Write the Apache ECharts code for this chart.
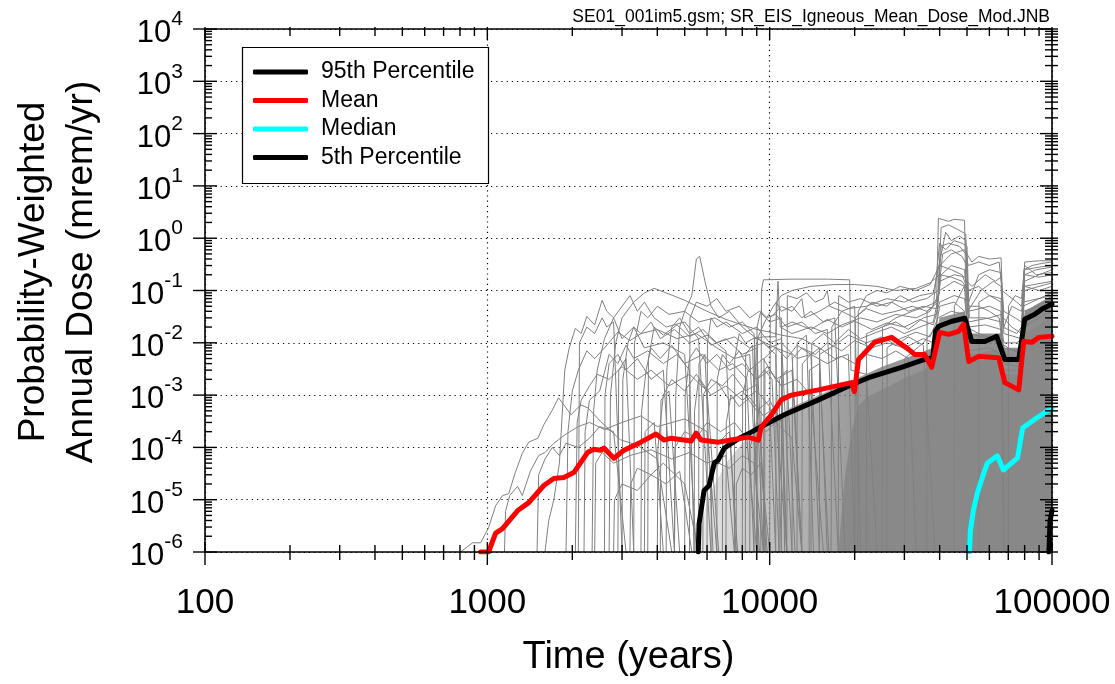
<!DOCTYPE html>
<html><head><meta charset="utf-8">
<script src="https://cdn.jsdelivr.net/npm/echarts@6/dist/echarts.min.js"></script>
<style>html,body{margin:0;padding:0;background:#fff}#c{width:1115px;height:684px}</style>
</head><body><div id="c"></div>
<script>
const FONT = '"Liberation Sans", Arial, sans-serif';
const titleText = 'SE01_001im5.gsm; SR_EIS_Igneous_Mean_Dose_Mod.JNB';
const xAxisTitle = 'Time (years)';
const yAxisTitle = 'Probability-Weighted\nAnnual Dose (mrem/yr)';
const seriesNames = ['95th Percentile', 'Mean', 'Median', '5th Percentile'];
const xDecades = [100, 1000, 10000, 100000];
const yDecades = [1e-6, 1e-5, 1e-4, 1e-3, 1e-2, 1e-1, 1, 10, 100, 1000, 10000];

const p95 = [[5585,1e-6],[5623,3.46e-6],[5858,1.5e-5],[6103,1.87e-5],[6359,4.97e-5],[6571,5.7e-5],[6905,9.7e-5],[7430,1.26e-4],[7930,1.57e-4],[8610,1.96e-4],[9570,2.68e-4],[11270,4.2e-4],[14890,8.1e-4],[19500,1.58e-3],[22400,2.15e-3],[29310,3.4e-3],[35370,4.8e-3],[37800,5.2e-3],[38700,1.7e-2],[39710,2.07e-2],[44160,2.58e-2],[49120,2.95e-2],[52000,1.06e-2],[57810,1.06e-2],[63700,1.33e-2],[68060,4.8e-3],[76260,4.8e-3],[80100,2.83e-2],[86900,3.5e-2],[92000,4.4e-2],[100000,5.5e-2]];
const meanDose = [[947,1e-6],[1010,1e-6],[1070,2.3e-6],[1132,2.8e-6],[1281,6.2e-6],[1402,8.8e-6],[1585,1.87e-5],[1719,2.55e-5],[1866,2.67e-5],[2024,3.3e-5],[2270,8.1e-5],[2384,9.2e-5],[2523,8.8e-5],[2587,9.7e-5],[2808,6.2e-5],[3046,8.8e-5],[3500,1.26e-4],[3956,1.8e-4],[4223,1.38e-4],[4474,1.5e-4],[5271,1.32e-4],[5490,1.88e-4],[5718,1.38e-4],[6571,1.26e-4],[7305,1.38e-4],[8398,1.57e-4],[9117,1.38e-4],[9340,2.45e-4],[10140,4.2e-4],[10990,8.1e-4],[11940,1.0e-3],[14890,1.26e-3],[19500,1.73e-3],[19960,1.16e-3],[20640,4.8e-3],[23510,1.02e-2],[27020,1.27e-2],[31050,7.5e-3],[32610,6.0e-3],[35370,6.0e-3],[37480,3.4e-3],[40010,1.58e-2],[43070,1.45e-2],[46730,1.66e-2],[48670,2.26e-2],[50700,4.4e-3],[55040,5.5e-3],[64760,5.2e-3],[68060,1.73e-3],[76260,1.26e-3],[79400,1.06e-2],[84850,1.02e-2],[89800,1.27e-2],[100000,1.33e-2]];
const median = [[51000,1e-6],[51400,2.6e-6],[52700,6.4e-6],[54400,1.34e-5],[56700,2.7e-5],[59000,5.0e-5],[64000,6.9e-5],[67300,3.7e-5],[75500,6.3e-5],[78700,2.35e-4],[86100,3.34e-4],[100000,5.7e-4]];
const p5 = [[97500,1e-6],[98400,3.9e-6],[100000,6.2e-6]];

// envelopes of the densely overlapping realization region
const denseHaze = [[5500,1e-6],[6000,1e-5],[7000,5e-5],[8000,1.2e-4],[9000,2e-4],[10000,3e-4],[12000,6e-4],[15000,1e-3],[20000,2e-3],[25000,3.5e-3],[30000,5e-3],[38000,8e-3],[40000,3e-2],[49000,4e-2],[51000,1.5e-2],[66000,1.5e-2],[68000,8e-3],[78000,8e-3],[80000,4e-2],[100000,8e-2]];
const denseCore = [[17500,1e-6],[18500,3e-5],[19500,2e-4],[20500,6e-4],[22000,9e-4],[26000,1.4e-3],[30000,2.1e-3],[34000,2.8e-3],[37500,3.5e-3],[39000,6e-3],[40500,1.3e-2],[45000,1.6e-2],[49000,1.8e-2],[50500,6e-3],[57000,6.5e-3],[64000,7.5e-3],[67500,2.5e-3],[77000,2.5e-3],[79500,1.5e-2],[90000,2.2e-2],[100000,3e-2]];

const realizations = [
 [[804,1e-6],[887,1.5e-6],[947,1.5e-6],[1010,2.9e-6],[1070,7.7e-6],[1132,1.2e-5],[1190,1.3e-5],[1256,3.3e-5],[1330,7.7e-5],[1402,1.26e-4],[1510,1.5e-4],[1585,2.7e-4],[1700,5.2e-4],[1787,8.9e-4],[1866,6.5e-4],[1980,4.2e-4],[2140,6.5e-4],[2270,5.7e-4],[2523,3.1e-4],[2960,1.4e-4],[3400,1.1e-4],[4000,6e-5],[4500,1e-6]],
 [[1150,1e-6],[1160,6e-6],[1200,1.2e-5],[1280,1.8e-5],[1330,1.2e-5],[1420,3.5e-5],[1520,7e-5],[1600,8e-5],[1720,1.2e-4],[1900,1.8e-4],[2100,2.5e-4],[2300,3e-4],[2600,2.2e-4],[3000,3e-4],[3500,4e-4],[4000,2.5e-4],[5000,3.5e-4],[6000,2e-4],[6500,1e-6]],
 [[1600,1e-6],[1650,4e-6],[1720,1e-5],[1800,5e-5],[1880,3e-3],[1950,8e-3],[2050,1.9e-2],[2150,1.5e-2],[2250,3.2e-2],[2400,2.2e-2],[2550,6.5e-2],[2650,4e-2],[2800,3e-2],[3000,1.2e-2],[3300,2e-2],[3600,8e-3],[4200,1e-2],[5000,6e-3],[5500,1e-6]],
 [[1900,1e-6],[1930,2e-4],[2000,1.2e-3],[2100,3e-3],[2250,7e-3],[2400,5e-3],[2600,8e-3],[2900,1.6e-2],[3200,1.1e-2],[3500,1.5e-2],[4000,1.8e-2],[4700,1.2e-2],[5500,1.5e-2],[6500,8e-3],[7500,5e-3],[8500,6e-3],[9200,1e-6]],
 [[2050,1e-6],[2080,3e-4],[2150,8e-4],[2300,1.5e-3],[2450,2.5e-3],[2700,2e-3],[3000,3.5e-3],[3400,2e-3],[3800,3e-3],[4400,1.5e-3],[5200,2.5e-3],[6000,1.2e-3],[6600,1e-6]],
 [[2350,1e-6],[2380,5e-4],[2450,3e-3],[2600,1.2e-2],[2800,3e-2],[3000,5e-2],[3200,8e-2],[3400,4e-2],[3600,6e-2],[3900,3e-2],[4300,2e-2],[5000,2.5e-2],[5600,1.2e-2],[6200,1e-6]],
 [[2700,1e-6],[2730,1e-3],[2850,1e-2],[3000,3e-2],[3300,6e-2],[3600,9e-2],[3900,1.1e-1],[4300,9e-2],[5000,6.5e-2],[6000,4e-2],[7000,2.8e-2],[8000,2.2e-2],[9000,1.8e-2],[10000,1.6e-2],[11000,1.4e-2],[13000,1.2e-2],[15000,8e-3],[16000,1e-6]],
 [[4600,1e-6],[4650,1e-3],[4800,2e-2],[5000,4e-2],[5300,8e-2],[5500,4e-1],[5650,4.5e-1],[5900,1.5e-1],[6200,5e-2],[6600,3e-2],[7200,4e-2],[8000,2e-2],[9000,1.2e-2],[10500,8e-3],[12000,6e-3],[13000,1e-6]],
 [[2200,1e-6],[2220,2e-4],[2300,8e-4],[2500,1.2e-3],[2700,6e-3],[2900,4e-3],[3100,9e-3],[3300,5e-3],[3700,7e-3],[4200,4e-3],[4700,6e-3],[5200,3e-3],[5400,1e-6]],
 [[2400,1e-6],[2420,5e-5],[2550,8e-5],[2800,5e-5],[3200,7e-5],[3800,9e-5],[4500,6e-5],[5200,8e-5],[6000,5e-5],[7000,7e-5],[7500,1e-6]],
 [[2600,1e-6],[2610,1e-3],[2700,4e-3],[2900,6e-3],[3100,3e-3],[3400,5e-3],[3800,2e-3],[4200,3e-3],[4600,1e-6]],
 [[3000,1e-6],[3020,2e-3],[3150,1e-2],[3300,2e-2],[3500,1.5e-2],[3800,2.5e-2],[4100,1.2e-2],[4600,1.8e-2],[5200,1e-2],[6000,1.4e-2],[7000,7e-3],[7600,1e-6]],
 [[1500,1e-6],[1520,3e-5],[1600,6e-5],[1700,1e-4],[1800,7e-5],[1900,1.2e-4],[2100,1e-4],[2300,1.5e-4],[2500,2.5e-4],[2800,2e-4],[3100,1e-6]],
 [[2100,1e-6],[2120,1e-2],[2250,2e-2],[2400,1.5e-2],[2550,3e-2],[2650,2e-2],[2800,2.5e-2],[3000,1e-6]],
 [[3500,1e-6],[3520,5e-4],[3650,3e-3],[3800,8e-3],[4100,5e-3],[4500,9e-3],[5000,4e-3],[5800,6e-3],[6600,3e-3],[7400,4e-3],[8300,2e-3],[8800,1e-6]],
 [[4000,1e-6],[4020,1e-4],[4200,1e-3],[4500,2e-3],[5000,1.2e-3],[5500,2.5e-3],[6200,1e-3],[7000,1.5e-3],[8000,8e-4],[9000,1.2e-3],[10000,6e-4],[10500,1e-6]],
 [[4300,1e-6],[4320,3e-3],[4500,2e-2],[4800,3e-2],[5200,1.5e-2],[5600,2e-2],[6200,9e-3],[7000,1.2e-2],[8000,6e-3],[9000,8e-3],[9700,1e-6]],
 [[5000,1e-6],[5020,1e-3],[5200,5e-3],[5500,8e-3],[6000,4e-3],[6500,6e-3],[7200,3e-3],[8000,4e-3],[9000,2e-3],[10000,3e-3],[11000,1.5e-3],[11500,1e-6]],
 [[5400,1e-6],[5420,5e-4],[5600,2e-3],[6000,1.2e-3],[6500,1.8e-3],[7200,8e-4],[8000,1.2e-3],[9000,5e-4],[10000,8e-4],[11000,3e-4],[11500,1e-6]],
 [[6000,1e-6],[6020,1e-2],[6200,3e-2],[6500,2e-2],[7000,2.5e-2],[8000,1.5e-2],[9000,2e-2],[10000,1e-2],[11000,1.2e-2],[12000,1e-6]],
 [[6500,1e-6],[6520,2e-3],[6800,6e-3],[7200,4e-3],[7800,7e-3],[8500,3e-3],[9500,5e-3],[10500,2e-3],[12000,3e-3],[13000,1e-6]],
 [[7000,1e-6],[7020,3e-4],[7300,1e-3],[7800,6e-4],[8500,9e-4],[9500,4e-4],[10500,6e-4],[11500,1e-6]],
 [[3200,1e-6],[3220,2e-5],[3400,4e-5],[3800,3e-5],[4200,5e-5],[5000,2e-5],[5600,1e-6]],
 [[7500,1e-6],[7520,5e-3],[7800,1.5e-2],[8200,1e-2],[9000,1.3e-2],[10000,8e-3],[11000,1e-2],[12500,5e-3],[14000,6e-3],[15000,1e-6]],
 [[8000,1e-6],[8020,1e-3],[8400,3e-3],[9000,2e-3],[9800,3.5e-3],[11000,1.5e-3],[12500,2e-3],[14000,1e-3],[15500,1e-6]],
 [[8500,1e-6],[8520,1e-4],[9000,3e-4],[9700,2e-4],[10500,3e-4],[12000,1.5e-4],[13000,1e-6]],
 [[9000,1e-6],[9020,2e-2],[9300,4e-2],[9800,3e-2],[10500,3.5e-2],[11500,2e-2],[13000,2.5e-2],[14500,1.5e-2],[16000,1.8e-2],[17500,1e-6]],
 [[3300,1e-6],[3320,1e-2],[3500,4e-2],[3700,3e-2],[4000,5e-2],[4400,3.5e-2],[5000,4e-2],[5600,2.5e-2],[6400,3e-2],[7200,2e-2],[8000,2.5e-2],[8800,1.5e-2],[9500,1e-6]],
 [[3700,1e-6],[3720,5e-3],[3900,2e-2],[4200,1.4e-2],[4700,2.2e-2],[5200,1.3e-2],[5800,1.8e-2],[6500,1e-2],[7500,1.3e-2],[8500,8e-3],[9500,1e-2],[10500,6e-3],[11000,1e-6]],
 [[5200,1e-6],[5220,3e-2],[5500,6e-2],[6000,5e-2],[6500,7e-2],[7000,4e-2],[7800,5e-2],[8500,3e-2],[9200,4e-2],[10000,2.5e-2],[11000,3e-2],[11300,1e-6]],
 [[2800,1e-6],[2820,1e-5],[3000,2e-5],[3400,1.5e-5],[3800,3e-5],[4300,2e-5],[4800,3.5e-5],[5300,1e-6]],
 [[4600,1e-6],[4620,1e-4],[5000,2e-4],[5500,1.5e-4],[6000,3e-4],[6700,2e-4],[7500,3e-4],[8300,1.5e-4],[9000,1e-6]],
 [[6200,1e-6],[6220,3e-5],[6600,5e-5],[7200,4e-5],[8000,7e-5],[8800,5e-5],[9500,1e-6]],
 [[7600,1e-6],[7620,2e-5],[8000,4e-5],[8600,3e-5],[9300,5e-5],[10000,1e-6]],
 [[5800,1e-6],[5820,1e-3],[6200,2e-3],[6800,1.5e-3],[7400,2.5e-3],[8200,1.2e-3],[9000,1.6e-3],[9800,1e-6]],
 [[2900,1e-6],[2920,3e-3],[3100,5e-3],[3300,1e-6]],
 [[4100,1e-6],[4120,8e-4],[4400,1.2e-3],[4800,1e-6]],
 [[5600,1e-6],[5620,4e-3],[5900,6e-3],[6300,1e-6]],
 [[6800,1e-6],[6820,1.5e-4],[7200,2e-4],[7700,1e-6]],
 [[8200,1e-6],[8220,6e-3],[8700,9e-3],[9100,1e-6]],
 [[3600,1e-6],[3620,2e-4],[3900,3e-4],[4200,1e-6]],
 [[9600,1e-6],[9620,3e-3],[10200,2e-3],[10800,1e-6]],
 [[10800,1e-6],[10820,2e-3],[11500,3e-3],[12300,1e-6]],
 [[12500,1e-6],[12520,1e-2],[13500,1.4e-2],[14300,1e-6]],
 [[13800,1e-6],[13820,3e-3],[15000,4e-3],[16200,1e-6]],
 [[9300,1e-6],[9350,0.1],[9500,0.16],[12000,0.165],[16000,0.165],[19200,0.16],[19400,3e-3],[22000,2.5e-3],[24000,1e-6]],
 [[9000,1e-6],[9050,1.2e-2],[9600,2.5e-2],[10300,5e-2],[11000,8e-2],[12000,0.1],[14000,0.12],[17000,0.13],[20000,0.13],[24000,0.12],[28000,0.1],[33000,0.11],[37000,0.14],[40000,0.2],[44000,0.18],[48000,0.15],[50500,0.1],[51000,3e-2],[58000,3e-2],[66000,2.5e-2],[67500,1e-2],[75000,1e-2],[78500,1.2e-2],[80000,0.1],[90000,0.12],[100000,0.14]],
 [[8800,1e-6],[8850,1.2e-2],[9500,1.3e-2],[10500,1.3e-2],[10700,0.15],[10900,2e-2],[12000,1.5e-2],[14000,2e-2],[16000,1.5e-2],[18000,2.2e-2],[21000,3e-2],[24000,2.5e-2],[28000,3.5e-2],[33000,3e-2],[37000,4e-2],[39500,8e-2],[41000,0.5],[44000,0.6],[48000,0.45],[50000,0.3],[50800,1.5e-2],[60000,1.2e-2],[66000,1e-2],[67000,3e-3],[76000,3e-3],[78500,3e-2],[88000,5e-2],[100000,7e-2]],
 [[10000,1e-6],[10050,3e-2],[11000,5e-2],[12000,4e-2],[13000,7e-2],[13300,3e-2],[15000,4e-2],[17000,6e-2],[19000,4.5e-2],[22000,5e-2],[26000,7e-2],[30000,6e-2],[34000,8e-2],[38000,9e-2],[39500,0.25],[42000,1.3],[44000,0.9],[47000,1.1],[49500,0.9],[50500,5e-2],[55000,5e-2],[60000,4e-2],[65000,3e-2],[67000,8e-3],[75000,7e-3],[78000,9e-3],[79500,0.25],[85000,0.3],[92000,0.33],[100000,0.35]],
 [[25000,1e-6],[25100,2e-2],[28000,3e-2],[32000,4e-2],[36000,5e-2],[39000,6e-2],[39600,2.4],[43000,2.1],[45000,2.3],[49000,2.2],[49800,2e-2],[55000,1.5e-2],[62000,1.2e-2],[70000,8e-3],[78000,6e-3],[80000,0.35],[90000,0.37],[100000,0.37]],
 [[30000,1e-6],[30100,5e-3],[35000,1e-2],[39000,2e-2],[40000,0.3],[44000,0.5],[49000,0.6],[52000,0.35],[55000,0.45],[60000,0.4],[66000,0.42],[67500,1.5e-2],[78000,1.2e-2],[80000,0.15],[90000,0.2],[100000,0.25]],
 [[20000,1e-6],[20100,3e-2],[23000,6e-2],[26000,5e-2],[29000,8e-2],[32000,6e-2],[36000,7e-2],[39500,0.1],[40500,1.6],[43000,1.8],[46000,1.5],[49500,1.2],[50300,4e-2],[56000,0.1],[62000,0.15],[66000,0.12],[67000,2e-2],[75000,1.5e-2],[78000,2e-2],[80000,0.2],[90000,0.18],[100000,0.2]],
 [[14000,1e-6],[14100,1e-2],[15500,1.5e-2],[17000,1e-2],[19000,1.8e-2],[21000,1.2e-2],[24000,1.6e-2],[27000,2e-2],[30000,1.5e-2],[34000,2e-2],[38000,2.5e-2],[40000,0.1],[45000,0.15],[49000,0.12],[50500,1e-2],[60000,1.2e-2],[66000,1.5e-2],[68000,5e-3],[77000,4e-3],[79000,5e-2],[90000,7e-2],[100000,9e-2]],
 [[12000,1e-6],[12050,5e-3],[13000,8e-3],[14500,6e-3],[16000,1e-2],[18000,7e-3],[20000,1.1e-2],[23000,8e-3],[26000,1e-2],[30000,8e-3],[35000,1.2e-2],[38000,1e-2],[40000,5e-2],[45000,6e-2],[49000,4e-2],[50500,7e-3],[60000,8e-3],[66000,6e-3],[70000,4e-3],[76000,5e-3],[79000,4e-2],[90000,5e-2],[100000,5.5e-2]],
 [[16500,1e-6],[16600,2e-2],[18000,4e-2],[20000,3e-2],[22000,4.5e-2],[25000,3.5e-2],[28000,4e-2],[32000,5e-2],[36000,4e-2],[39500,6e-2],[40500,0.7],[43000,0.8],[47000,0.7],[49500,0.5],[50500,0.3],[55000,0.35],[60000,0.3],[65000,0.35],[66500,0.1],[70000,8e-2],[75000,6e-2],[78000,5e-2],[80000,0.25],[90000,0.28],[100000,0.3]],
 [[9500,1e-6],[9550,5e-3],[10500,8e-3],[11500,5e-3],[12500,9e-3],[14000,6e-3],[15000,8e-3],[17000,5e-3],[19000,6e-3],[20000,1e-6]],
 [[10500,1e-6],[10550,6e-2],[11000,4e-2],[12000,5e-2],[13000,3e-2],[14000,4e-2],[15500,2.5e-2],[17000,3e-2],[18500,1e-6]],
 [[11500,1e-6],[11550,8e-2],[12500,7e-2],[13500,9e-2],[14500,6e-2],[15500,7e-2],[16000,0.1],[16300,5e-2],[18000,4e-2],[20000,5e-2],[21000,1e-6]],
 [[20500,1e-6],[20600,4e-2],[22000,8e-2],[24000,0.1],[26000,0.09],[29000,0.12],[33000,0.1],[37000,0.13],[40000,0.3],[44000,0.25],[48000,0.2],[50500,0.1],[55000,0.12],[60000,0.08],[66000,0.06],[67500,1e-6]],
 [[36000,1e-6],[36100,4e-2],[38000,5e-2],[40000,0.8],[42000,0.6],[45000,0.9],[48000,0.8],[50000,0.7],[50700,6e-2],[55000,0.2],[60000,0.25],[66000,0.22],[67300,3e-2],[72000,2e-2],[78000,1.5e-2],[79500,0.12],[100000,0.15]],
 [[45000,1e-6],[45100,5e-2],[48000,0.1],[50000,0.15],[52000,0.12],[58000,0.2],[63000,0.15],[66000,0.18],[67500,4e-2],[74000,3e-2],[78000,2.5e-2],[80000,0.2],[88000,0.25],[100000,0.28]],
 [[55000,1e-6],[55100,6e-2],[60000,8e-2],[66000,7e-2],[67500,2e-2],[72000,5e-2],[78000,4e-2],[80000,0.12],[90000,0.1],[100000,0.12]],
 [[11000,1e-6],[11020,2e-2],[12000,2.5e-2],[14000,1.8e-2],[16000,2.8e-2],[18000,2e-2],[20000,2.6e-2],[23000,1.8e-2],[26000,2.4e-2],[30000,2e-2],[34000,2.8e-2],[38000,2.2e-2],[40000,6e-2],[45000,8e-2],[49000,7e-2],[50500,2e-2],[58000,2.2e-2],[66000,1.8e-2],[67500,6e-3],[77000,5e-3],[79000,6e-2],[100000,8e-2]],
 [[15000,1e-6],[15020,6e-3],[17000,9e-3],[19000,1.4e-2],[22000,1e-2],[25000,1.3e-2],[28000,9e-3],[31000,1.3e-2],[35000,9e-3],[38500,1e-6]],
 [[22000,1e-6],[22050,1.5e-2],[25000,2e-2],[28000,2.5e-2],[31000,1.8e-2],[35000,3e-2],[39000,3.5e-2],[40500,0.2],[44000,0.3],[49000,0.25],[50500,2.5e-2],[60000,3e-2],[66500,3.5e-2],[67500,1e-6]],
 [[13000,1e-6],[13050,4e-3],[14000,6e-3],[16000,4e-3],[18000,5.5e-3],[20000,4e-3],[22000,6e-3],[25000,5e-3],[28000,7e-3],[31000,5e-3],[33000,1e-6]],
 [[17500,1e-6],[17550,8e-2],[19000,6e-2],[21000,7e-2],[24000,5e-2],[27000,6e-2],[31000,4e-2],[35000,5e-2],[39000,4.5e-2],[40000,0.15],[45000,0.2],[49500,0.18],[50500,4e-2],[60000,5e-2],[66000,4e-2],[67500,1e-6]],
 [[26000,1e-6],[26050,8e-3],[29000,1.2e-2],[33000,1.6e-2],[37000,1.3e-2],[39500,3e-2],[44000,4e-2],[49000,3.5e-2],[50500,1e-2],[58000,1.2e-2],[65000,1e-2],[67500,4e-3],[76000,3.5e-3],[79000,2e-2],[90000,3e-2],[100000,4e-2]],
 [[70000,1e-6],[70100,5e-2],[74000,8e-2],[78000,7e-2],[80000,0.3],[88000,0.2],[100000,0.22]]
];

// tick positions (decades and their 2..9 multiples)
const mult = [2,3,4,5,6,7,8,9];
const tickData = [];
xDecades.forEach(d => {
  tickData.push([d, 1e-6, 0], [d, 1e4, 2]);
  if (d < 100000) mult.forEach(m => tickData.push([d*m, 1e-6, 1], [d*m, 1e4, 3]));
});
yDecades.forEach(d => {
  tickData.push([100, d, 4], [100000, d, 6]);
  if (d < 10000) mult.forEach(m => tickData.push([100, d*m, 5], [100000, d*m, 7]));
});
tickData.push([100, 1e4, 8]);

const chart = echarts.init(document.getElementById('c'), null, {renderer: 'canvas'});
const gray = '#808080';

const series = [];
series.push({
  type: 'line', name: 'haze', data: denseHaze, symbol: 'none', silent: true, z: 1,
  lineStyle: {width: 0}, areaStyle: {origin: 'start', opacity: 1,
    color: new echarts.graphic.LinearGradient(0, 0, 1, 0, [
      {offset: 0, color: 'rgba(128,128,128,0.15)'},
      {offset: 0.15, color: 'rgba(128,128,128,0.42)'},
      {offset: 0.3, color: 'rgba(128,128,128,0.62)'},
      {offset: 0.45, color: 'rgba(128,128,128,0.8)'},
      {offset: 1, color: 'rgba(128,128,128,0.9)'}])}
});
series.push({
  type: 'line', name: 'core', data: denseCore, symbol: 'none', silent: true, z: 1,
  lineStyle: {width: 0}, areaStyle: {origin: 'start', opacity: 1, color: 'rgba(136,136,136,0.92)'}
});
realizations.forEach((d, i) => series.push({
  type: 'line', name: 'r' + i, data: d, symbol: 'none', silent: true, z: 2,
  lineStyle: {color: gray, width: 1}
}));
const statLine = (name, data, color, z) => ({
  type: 'line', name, data, symbol: 'none', color, z, silent: true,
  lineStyle: {color, width: 5, cap: 'round', join: 'round'}
});
series.push(statLine(seriesNames[3], p5, '#000000', 3));
series.push(statLine(seriesNames[2], median, '#00ffff', 3));
series.push(statLine(seriesNames[0], p95, '#000000', 3));
series.push(statLine(seriesNames[1], meanDose, '#ff0000', 4));

series.push({
  type: 'custom', name: 'ticks', data: tickData, z: 8, silent: true, clip: false,
  renderItem: (params, api) => {
    const k = api.value(2);
    const p = api.coord([api.value(0), api.value(1)]);
    let s;
    if (k === 8) {
      const q = api.coord([100000, 1e-6]);
      return {type: 'rect', shape: {x: p[0], y: p[1], width: q[0]-p[0], height: q[1]-p[1]},
        style: {fill: null, stroke: '#000', lineWidth: 1.6}};
    }
    switch (k) {
      case 0: s = [p[0], p[1]-10, p[0], p[1]+13]; break;
      case 1: s = [p[0], p[1]-7, p[0], p[1]+8]; break;
      case 2: s = [p[0], p[1]-2, p[0], p[1]+11]; break;
      case 3: s = [p[0], p[1]-2, p[0], p[1]+7]; break;
      case 4: s = [p[0]-12, p[1], p[0]+12, p[1]]; break;
      case 5: s = [p[0], p[1], p[0]+7, p[1]]; break;
      case 6: s = [p[0]-12, p[1], p[0]+6, p[1]]; break;
      default: s = [p[0]-7, p[1], p[0]+6, p[1]];
    }
    return {type: 'line', shape: {x1: s[0], y1: s[1], x2: s[2], y2: s[3]},
      style: {stroke: '#000', lineWidth: 1.4}};
  }
});

const splitDotted = {show: true, lineStyle: {color: '#000', width: 1.2, type: [1.2, 4]}};

chart.setOption({
  animation: false,
  backgroundColor: '#fff',
  grid: {left: 205, right: 63, top: 29, bottom: 132, containLabel: false},
  xAxis: [{
    type: 'log', logBase: 10, min: 100, max: 100000, interval: 1, position: 'bottom',
    axisLine: {show: false}, axisTick: {show: false}, minorTick: {show: false},
    splitLine: splitDotted,
    axisLabel: {fontSize: 35, fontFamily: FONT, color: '#000', margin: 34, lineHeight: 35,
      formatter: v => String(Math.round(v))}
  }],
  yAxis: [{
    type: 'log', logBase: 10, min: 1e-6, max: 1e4, interval: 1,
    axisLine: {show: false}, axisTick: {show: false}, minorTick: {show: false},
    splitLine: splitDotted,
    axisLabel: {
      margin: 22, color: '#000',
      formatter: v => '{b|10}{s|' + Math.round(Math.log10(v)) + '}',
      rich: {
        b: {fontSize: 31, lineHeight: 40, fontFamily: FONT, color: '#000', verticalAlign: 'bottom'},
        s: {fontSize: 21, lineHeight: 21, fontFamily: FONT, color: '#000', verticalAlign: 'top'}
      }
    }
  }],
  legend: {
    orient: 'vertical', left: 253, top: 60, padding: 0, z: 20,
    itemWidth: 55, itemHeight: 5, itemGap: 4.5, icon: 'roundRect',
    data: seriesNames, selectedMode: false,
    textStyle: {fontSize: 23, fontFamily: FONT, color: '#000', lineHeight: 24, padding: [0, 0, 0, 8]}
  },
  graphic: [
    {type: 'rect', z: 15, shape: {x: 242.5, y: 47.5, width: 246, height: 136},
      style: {fill: '#fff', stroke: '#000', lineWidth: 1.2}},
    {type: 'text', z: 15, x: 1050, y: 17.5,
      style: {text: titleText, font: '17.5px ' + FONT, fill: '#000', textAlign: 'right', textVerticalAlign: 'middle'}},
    {type: 'text', z: 15, x: 628.5, y: 658,
      style: {text: xAxisTitle, font: '38px ' + FONT, fill: '#000', textAlign: 'center', textVerticalAlign: 'middle'}},
    {type: 'text', z: 15, x: 58, y: 272, rotation: Math.PI / 2,
      style: {text: yAxisTitle, font: '37px ' + FONT, fill: '#000', textAlign: 'center', textVerticalAlign: 'middle', lineHeight: 48}}
  ],
  series
});
</script></body></html>
